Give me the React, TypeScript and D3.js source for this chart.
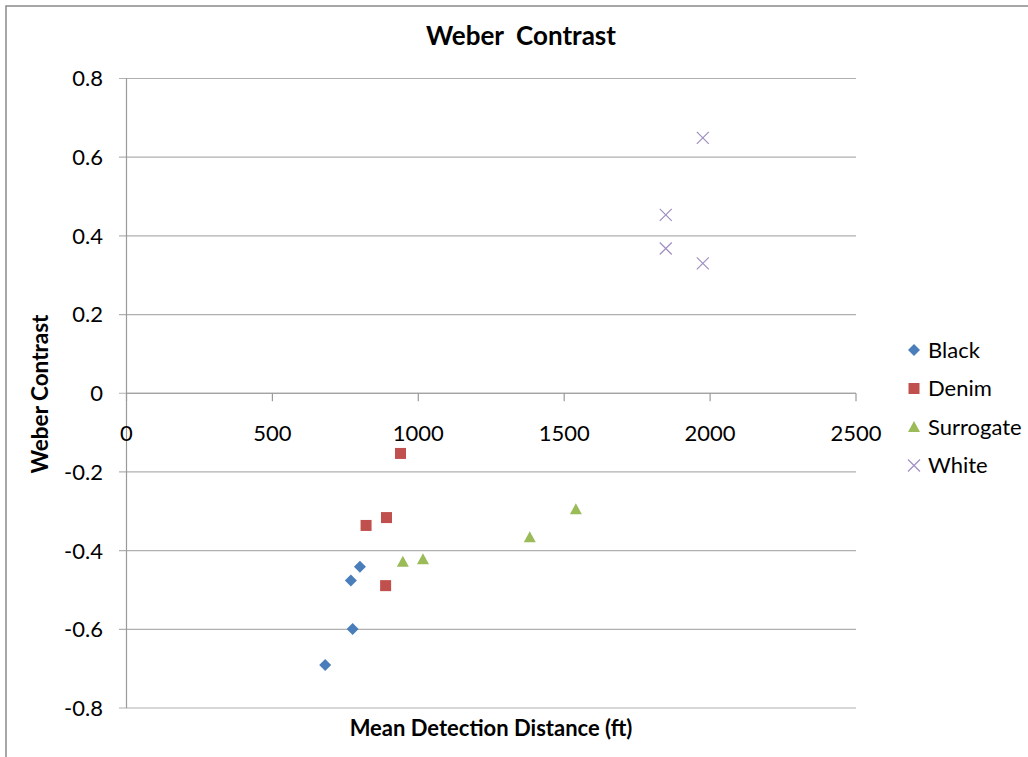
import React from "react";
import * as d3 from "d3";

const seriesNames = ["Black", "Denim", "Surrogate", "White"];
const seriesColors = ["#4a7ebb", "#c0504d", "#9bbb59", "#9f8ec2"];
const blackX = [681, 769, 775, 800];
const blackY = [-0.691, -0.476, -0.599, -0.441];
const denimX = [939, 821, 891, 888];
const denimY = [-0.153, -0.336, -0.316, -0.489];
const surrogateX = [947, 1016, 1382, 1540];
const surrogateY = [-0.428, -0.422, -0.366, -0.295];
const whiteX = [1975, 1848, 1848, 1975];
const whiteY = [0.649, 0.4535, 0.368, 0.33];
const xTicks = [0, 500, 1000, 1500, 2000, 2500];
const yTicks = [-0.8, -0.6, -0.4, -0.2, 0, 0.2, 0.4, 0.6, 0.8];

const FONT = "Lato, 'Open Sans', sans-serif";

export default function App() {
  const x = d3.scaleLinear().domain([0, 2500]).range([126.5, 856]);
  const y = d3.scaleLinear().domain([-0.8, 0.8]).range([708, 78.5]);
  const xs = [blackX, denimX, surrogateX, whiteX];
  const ys = [blackY, denimY, surrogateY, whiteY];

  const marker = (si: number, cx: number, cy: number, key: string) => {
    const color = seriesColors[si];
    if (si === 0) {
      const r = 6;
      return <path key={key} d={`M${cx},${cy - r}L${cx + r},${cy}L${cx},${cy + r}L${cx - r},${cy}Z`} fill={color} />;
    }
    if (si === 1) {
      const r = 5.5;
      return <rect key={key} x={cx - r} y={cy - r} width={2 * r} height={2 * r} fill={color} />;
    }
    if (si === 2) {
      return <path key={key} d={`M${cx},${cy - 6}L${cx + 6},${cy + 5}L${cx - 6},${cy + 5}Z`} fill={color} />;
    }
    const r = 6;
    return (
      <path
        key={key}
        d={`M${cx - r},${cy - r}L${cx + r},${cy + r}M${cx - r},${cy + r}L${cx + r},${cy - r}`}
        stroke={color}
        strokeWidth={1.2}
        fill="none"
      />
    );
  };

  const fmt = (t: number) => (t === 0 ? "0" : d3.format(".1f")(t).replace("\u2212", "-"));

  return (
    <svg
      width={1028}
      height={757}
      style={{ position: "absolute", left: 0, top: 0, background: "#fff" }}
      fontFamily={FONT}
    >
      <rect x={0} y={0} width={1028} height={757} fill="#fff" />
      <path d="M6,757V6H1028" stroke="#8a8a8a" strokeWidth={1.5} fill="none" />
      <text x={521} y={45} textAnchor="middle" fontSize={26} fontWeight="bold" fill="#000" style={{ whiteSpace: "pre" }}>
        {"Weber  Contrast"}
      </text>
      {yTicks.map((t) => (
        <g key={"yt" + t}>
          <line x1={119} x2={856} y1={y(t)} y2={y(t)} stroke="#b0b0b0" strokeWidth={1.2} />
          <text x={103} y={y(t)} dy="0.36em" textAnchor="end" fontSize={22} fill="#000">
            {fmt(t)}
          </text>
        </g>
      ))}
      <line x1={x(0)} x2={x(0)} y1={y(0.8)} y2={y(-0.8)} stroke="#9a9a9a" strokeWidth={1.2} />
      <line x1={x(0)} x2={x(2500)} y1={y(0)} y2={y(0)} stroke="#9a9a9a" strokeWidth={1.2} />
      {xTicks.map((t) => (
        <g key={"xt" + t}>
          <line x1={x(t)} x2={x(t)} y1={y(0)} y2={y(0) + 8} stroke="#9a9a9a" strokeWidth={1.2} />
          <text x={x(t)} y={441} textAnchor="middle" fontSize={22} fill="#000">
            {t}
          </text>
        </g>
      ))}
      {xs.map((arr, si) => arr.map((v, i) => marker(si, x(v), y(ys[si][i]), `m${si}-${i}`)))}
      <text x={491} y={736} textAnchor="middle" fontSize={22} fontWeight="bold" fill="#000">
        Mean Detection Distance (ft)
      </text>
      <text
        transform={`translate(48,394) rotate(-90)`}
        textAnchor="middle"
        fontSize={22.5}
        fontWeight="bold"
        fill="#000"
      >
        Weber Contrast
      </text>
      {seriesNames.map((n, si) => {
        const cy = 350 + si * 38.5;
        return (
          <g key={n}>
            {marker(si, 914, cy, "lg" + si)}
            <text x={928} y={cy} dy="0.36em" fontSize={22} fill="#000">
              {n}
            </text>
          </g>
        );
      })}
    </svg>
  );
}
